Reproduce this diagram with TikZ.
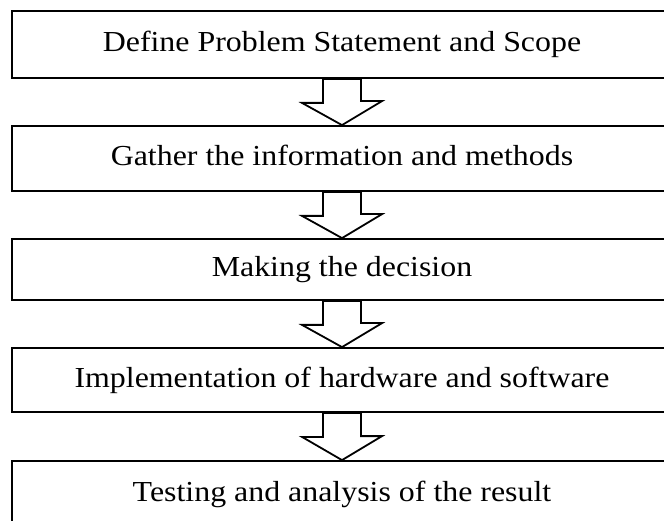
\documentclass[tikz,border=0pt]{standalone}
\usepackage{fontspec}
\setmainfont{Liberation Serif}[FakeStretch=1.1]

\begin{document}
\begin{tikzpicture}
[
    x=1pt, y=-1pt,
    stage/.style={draw, line width=1.8pt, minimum width=660pt, inner sep=0pt,
        font=\fontsize{29}{34}\selectfont, text height=20pt, text depth=6pt},
    hollow/.style={draw, fill=white, line width=1.8pt, line join=miter},
]
\useasboundingbox (0,0) rectangle (664,521);
\node [stage, minimum height=67pt] (define) at (342,44.5)
{Define Problem Statement and Scope};
\node [stage, minimum height=65pt] (gather) at (342,158.5)
{Gather the information and methods};
\node [stage, minimum height=61pt] (decide) at (342,269.5)
{Making the decision};
\node [stage, minimum height=64pt] (implement) at (342,380)
{Implementation of hardware and software};
\node [stage, minimum height=67pt] (test) at (342,494.5)
{Testing and analysis of the result};
\foreach \a/\b in {define/gather, gather/decide, decide/implement, implement/test}
    \draw [hollow] ([xshift=-19pt]\a.south) -- ++(0,24) -- ++(-21,0) -- (\b.north)
        -- ++(40,-24) -- ++(-21,0) |- ([xshift=19pt]\a.south) -- cycle;
\end{tikzpicture}
\end{document}
